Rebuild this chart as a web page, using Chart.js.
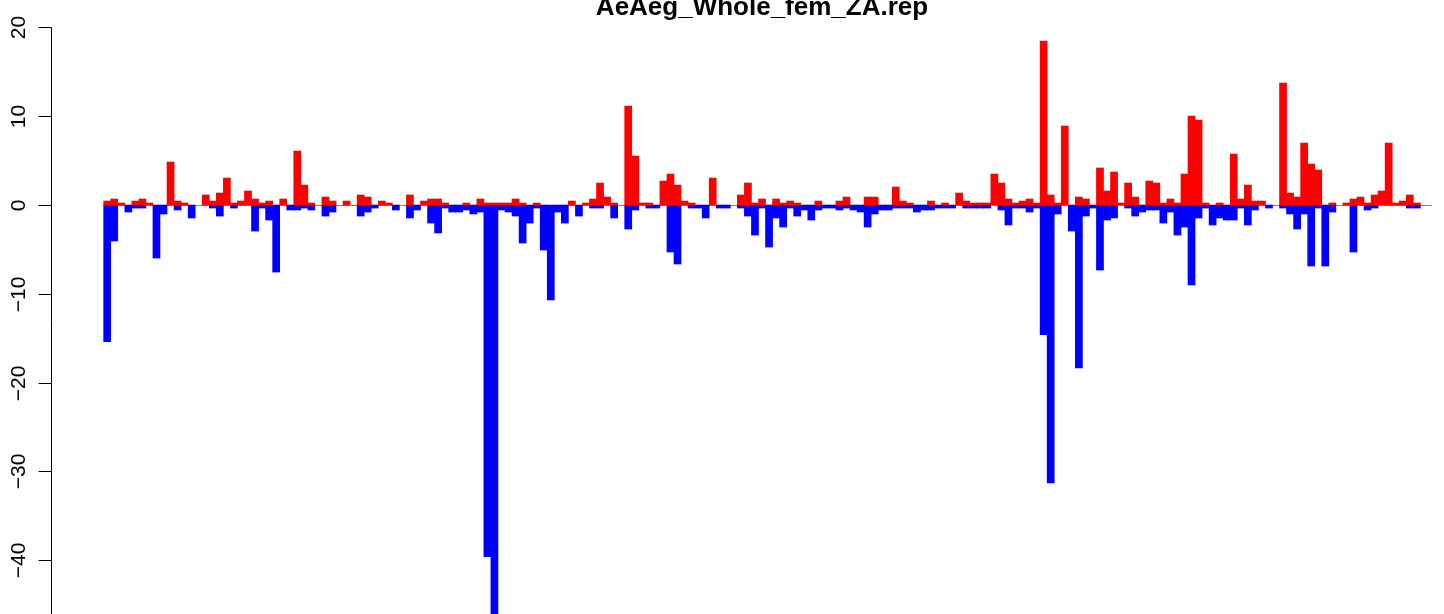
<!DOCTYPE html>
<html>
<head>
<meta charset="utf-8">
<script src="https://cdn.jsdelivr.net/npm/chart.js@4.4.1/dist/chart.umd.min.js"></script>
<style>
  html, body { margin: 0; padding: 0; background: #fff; }
  #wrap { width: 1444px; height: 614px; position: relative; }
</style>
</head>
<body>
<div id="wrap"><canvas id="chart"></canvas></div>
<script>
const chartTitle = 'AeAeg_Whole_fem_ZA.rep';

// red bars (above zero), one per position
const upValues = [
  0.45, 0.68, 0.23, 0, 0.45, 0.68, 0.23, 0, 0, 4.84,
  0.45, 0.23, 0, 0, 1.13, 0.45, 1.35, 3.04, 0.23, 0.45,
  1.58, 0.68, 0.23, 0.45, 0, 0.68, 0, 6.08, 2.25, 0.23,
  0, 0.9, 0.45, 0, 0.45, 0, 1.13, 0.9, 0, 0.45,
  0.23, 0, 0, 1.13, 0, 0.45, 0.68, 0.68, 0.23, 0,
  0, 0.23, 0, 0.68, 0.23, 0.23, 0.23, 0.23, 0.68, 0.23,
  0, 0.23, 0, 0, 0, 0, 0.45, 0, 0.23, 0.68,
  2.48, 0.9, 0.23, 0, 11.15, 5.52, 0.23, 0.23, 0, 2.7,
  3.49, 2.25, 0.45, 0.23, 0, 0, 3.04, 0, 0, 0,
  1.13, 2.48, 0.23, 0.68, 0, 0.68, 0.23, 0.45, 0.23, 0,
  0, 0.45, 0, 0, 0.45, 0.9, 0, 0, 0.9, 0.9,
  0, 0, 2.03, 0.45, 0.23, 0, 0, 0.45, 0, 0.23,
  0, 1.35, 0.45, 0.23, 0.23, 0.23, 3.49, 2.48, 0.68, 0.23,
  0.45, 0.68, 0.23, 18.47, 1.13, 0.23, 8.9, 0, 0.9, 0.68,
  0, 4.17, 1.58, 3.72, 0.23, 2.48, 0.9, 0, 2.7, 2.48,
  0.23, 0.68, 0.23, 3.49, 10.02, 9.57, 0.23, 0, 0.23, 0,
  5.74, 0.68, 2.25, 0.45, 0.45, 0, 0, 13.74, 1.35, 0.9,
  6.98, 4.62, 3.94, 0, 0.23, 0, 0.23, 0.68, 0.9, 0.23,
  1.13, 1.58, 6.98, 0.23, 0.45, 1.13, 0.23
];

// blue bars (below zero)
const downValues = [
  -15.4, -4.05, 0, -0.79, -0.34, -0.34, 0, -5.97, -1.01, 0,
  -0.56, 0, -1.46, 0, 0, -0.34, -1.24, 0, -0.34, 0,
  0, -2.93, -0.34, -1.69, -7.55, 0, -0.56, -0.56, -0.34, -0.56,
  0, -1.24, -0.79, 0, 0, 0, -1.24, -0.79, -0.34, 0,
  0, -0.56, 0, -1.46, -0.56, 0, -2.03, -3.15, -0.34, -0.79,
  -0.79, -0.56, -1.01, -0.79, -39.6, -47, -0.56, -0.79, -1.24, -4.28,
  -2.03, -0.34, -5.07, -10.7, -0.79, -2.03, 0, -1.24, 0, -0.34,
  -0.34, 0, -1.46, 0, -2.7, -0.56, 0, -0.34, -0.34, 0,
  -5.29, -6.64, 0, -0.34, -0.34, -1.46, 0, -0.34, -0.34, 0,
  -0.34, -1.24, -3.38, -0.34, -4.73, -1.46, -2.48, -0.34, -1.24, -0.56,
  -1.69, -0.56, -0.34, -0.34, -0.56, -0.34, -0.56, -0.79, -2.48, -1.01,
  -0.56, -0.56, -0.34, -0.34, -0.34, -0.79, -0.56, -0.56, -0.34, -0.34,
  -0.34, 0, -0.34, -0.34, -0.34, -0.34, 0, -0.56, -2.25, -0.34,
  -0.34, -0.79, -0.34, -14.6, -31.3, -1.01, 0, -2.93, -18.36, -1.24,
  -0.34, -7.32, -1.69, -1.46, 0, -0.34, -1.24, -0.79, -0.56, -0.56,
  -2.03, -0.79, -3.38, -2.48, -9.0, -1.46, -0.34, -2.25, -1.46, -1.69,
  -1.69, -0.34, -2.25, -0.56, 0, -0.34, 0, -0.34, -1.01, -2.7,
  -1.01, -6.87, -0.34, -6.87, -0.79, 0, 0, -5.29, 0, -0.56,
  -0.34, 0, 0, 0, 0, -0.34, -0.34
];

const categories = upValues.map((_, i) => i);   // bar i sits on [i, i+1]
const yTicks = [-40, -30, -20, -10, 0, 10, 20];
const yTickLabels = ['\u221240', '\u221230', '\u221220', '\u221210', '0', '10', '20'];

// R-style plot region: bars 0..n plus 4% each side
const xMin = -7.48;
const xMax = 190.36;
const yMin = -46.06;
const yMax = 23.09;
const zeroLineEnd = 188.6;

function toPoints(values) {
  return values.map((v, i) => ({ x: categories[i] + 0.5, y: v === 0 ? null : v }));
}

const rAxis = {
  id: 'rAxis',
  beforeDatasetsDraw(chart) {
    const { ctx } = chart;
    const xs = chart.scales.x, ys = chart.scales.y;
    const y0 = Math.round(ys.getPixelForValue(0)) + 0.5;
    ctx.save();
    ctx.strokeStyle = '#808080';
    ctx.lineWidth = 1;
    ctx.beginPath();
    ctx.moveTo(xs.getPixelForValue(0), y0);
    ctx.lineTo(xs.getPixelForValue(zeroLineEnd), y0);
    ctx.stroke();
    ctx.restore();
  },
  afterDraw(chart) {
    const { ctx } = chart;
    const xs = chart.scales.x, ys = chart.scales.y;
    const ax = Math.round(ys.right) + 0.5;
    ctx.save();
    ctx.strokeStyle = '#000';
    ctx.lineWidth = 1;
    // axis line from top tick down
    ctx.beginPath();
    ctx.moveTo(ax, Math.round(ys.getPixelForValue(yTicks[yTicks.length - 1])) + 0.5);
    ctx.lineTo(ax, chart.chartArea.bottom);
    ctx.stroke();
    ctx.fillStyle = '#000';
    ctx.font = '21px "Liberation Sans", Arial, sans-serif';
    ctx.textAlign = 'center';
    ctx.textBaseline = 'alphabetic';
    yTicks.forEach((v, i) => {
      const py = Math.round(ys.getPixelForValue(v)) + 0.5;
      ctx.beginPath();
      ctx.moveTo(ax - 13, py);
      ctx.lineTo(ax, py);
      ctx.stroke();
      ctx.save();
      ctx.translate(25, py);
      ctx.rotate(-Math.PI / 2);
      ctx.fillText(yTickLabels[i], 0, 0);
      ctx.restore();
    });
    // title, centred over the full R plot region
    ctx.font = 'bold 26px "Liberation Sans", Arial, sans-serif';
    ctx.fillText(chartTitle, xs.getPixelForValue((xMin + 7.48 + categories.length + 7.48 + xMin) / 2 + 0), 15);
    ctx.restore();
  }
};

new Chart(document.getElementById('chart'), {
  type: 'bar',
  data: {
    datasets: [
      { label: 'up', data: toPoints(upValues), backgroundColor: '#ff0000', borderWidth: 0, grouped: false },
      { label: 'down', data: toPoints(downValues), backgroundColor: '#0000ff', borderWidth: 0, grouped: false }
    ]
  },
  options: {
    responsive: true,
    maintainAspectRatio: false,
    animation: false,
    devicePixelRatio: 1,
    layout: { padding: 0 },
    datasets: { bar: { barPercentage: 1, categoryPercentage: 1 } },
    plugins: { legend: { display: false }, tooltip: { enabled: false }, title: { display: false } },
    scales: {
      x: { type: 'linear', display: false, offset: false, min: xMin, max: xMax },
      y: {
        min: yMin, max: yMax,
        grid: { display: false },
        border: { display: false },
        ticks: { display: false },
        afterBuildTicks: (scale) => { scale.ticks = yTicks.map(v => ({ value: v })); },
        afterFit: (scale) => { scale.width = 51; }
      }
    }
  },
  plugins: [rAxis]
});
</script>
</body>
</html>
